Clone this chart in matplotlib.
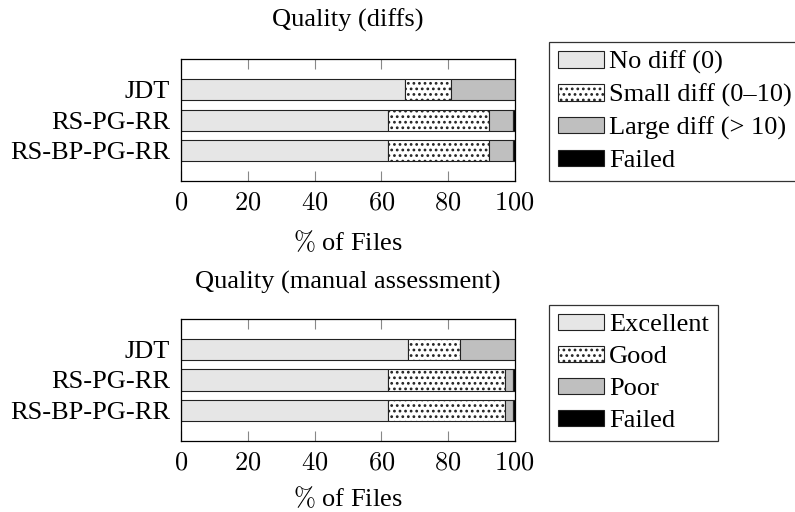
import matplotlib
matplotlib.use("Agg")
import matplotlib.pyplot as plt
import numpy as np

plt.rcParams['font.family'] = ['Liberation Serif', 'DejaVu Serif']
plt.rcParams['mathtext.fontset'] = 'cm'
plt.rcParams['hatch.linewidth'] = 1.2
plt.rcParams['hatch.color'] = 'black'

categories = ['JDT', 'RS-PG-RR', 'RS-BP-PG-RR']
xticks = [0, 20, 40, 60, 80, 100]

diff_labels = ['No diff (0)', 'Small diff (0–10)', 'Large diff (> 10)', 'Failed']
diff_no = [67.0, 62.0, 62.0]
diff_small = [14.0, 30.3, 30.3]
diff_large = [19.0, 7.1, 7.1]
diff_failed = [0.0, 0.6, 0.6]

man_labels = ['Excellent', 'Good', 'Poor', 'Failed']
man_excellent = [68.0, 62.0, 62.0]
man_good = [15.5, 35.0, 35.0]
man_poor = [16.5, 2.4, 2.4]
man_failed = [0.0, 0.6, 0.6]

colors = ['#e6e6e6', 'white', '#bfbfbf', 'black']
hatches = [None, '...', None, None]

W, H = 795, 512
fig = plt.figure(figsize=(W / 100, H / 100), dpi=100)

def px(x0, y0, x1, y1):
    return [x0 / W, 1 - y1 / H, (x1 - x0) / W, (y1 - y0) / H]

FS = 19

def draw(rect, series, labels, title, title_y, leg_bottom, xlabelpad):
    ax = fig.add_axes(rect)
    y = np.arange(len(categories))
    left = np.zeros(len(categories))
    handles = []
    for vals, c, h, lab in zip(series, colors, hatches, labels):
        b = ax.barh(y, vals, left=left, height=0.7, color=c, hatch=h,
                    edgecolor='#222222', linewidth=0.8, label=lab)
        handles.append(b)
        left = left + np.array(vals)
    ax.set_xlim(0, 100)
    ax.set_ylim(3.0, -1.0)
    ax.set_yticks(y)
    ax.set_yticklabels(categories, fontsize=FS)
    ax.set_xticks(xticks)
    ax.set_xticklabels([f'${t}$' for t in xticks], fontsize=FS)
    ax.tick_params(axis='x', direction='in', length=7, width=0.8, color='#888888',
                   top=True, bottom=True, pad=8)
    ax.tick_params(axis='y', length=0, pad=8)
    for s in ax.spines.values():
        s.set_linewidth(0.9)
        s.set_color('black')
    ax.set_xlabel(r'$\%$ of Files', fontsize=FS, labelpad=xlabelpad)
    fig.text((rect[0] + rect[2] / 2), 1 - title_y / H, title, ha='center', va='center',
             fontsize=FS)
    leg = fig.legend(handles=handles, labels=labels, loc='lower left',
                     bbox_to_anchor=(549 / W, 1 - leg_bottom / H), borderaxespad=0,
                     fontsize=FS, frameon=True, fancybox=False, edgecolor='black',
                     handlelength=1.74, handleheight=0.57, handletextpad=0.19,
                     labelspacing=0.36, borderpad=0.34)
    leg.get_frame().set_linewidth(0.9)
    return ax

draw(px(181.3, 59.3, 514.7, 181), [diff_no, diff_small, diff_large, diff_failed],
     diff_labels, 'Quality (diffs)', 20, 181, 11)
draw(px(181.3, 318.7, 514.7, 441), [man_excellent, man_good, man_poor, man_failed],
     man_labels, 'Quality (manual assessment)', 282, 441, 8)

fig.savefig('out.png', dpi=100)
